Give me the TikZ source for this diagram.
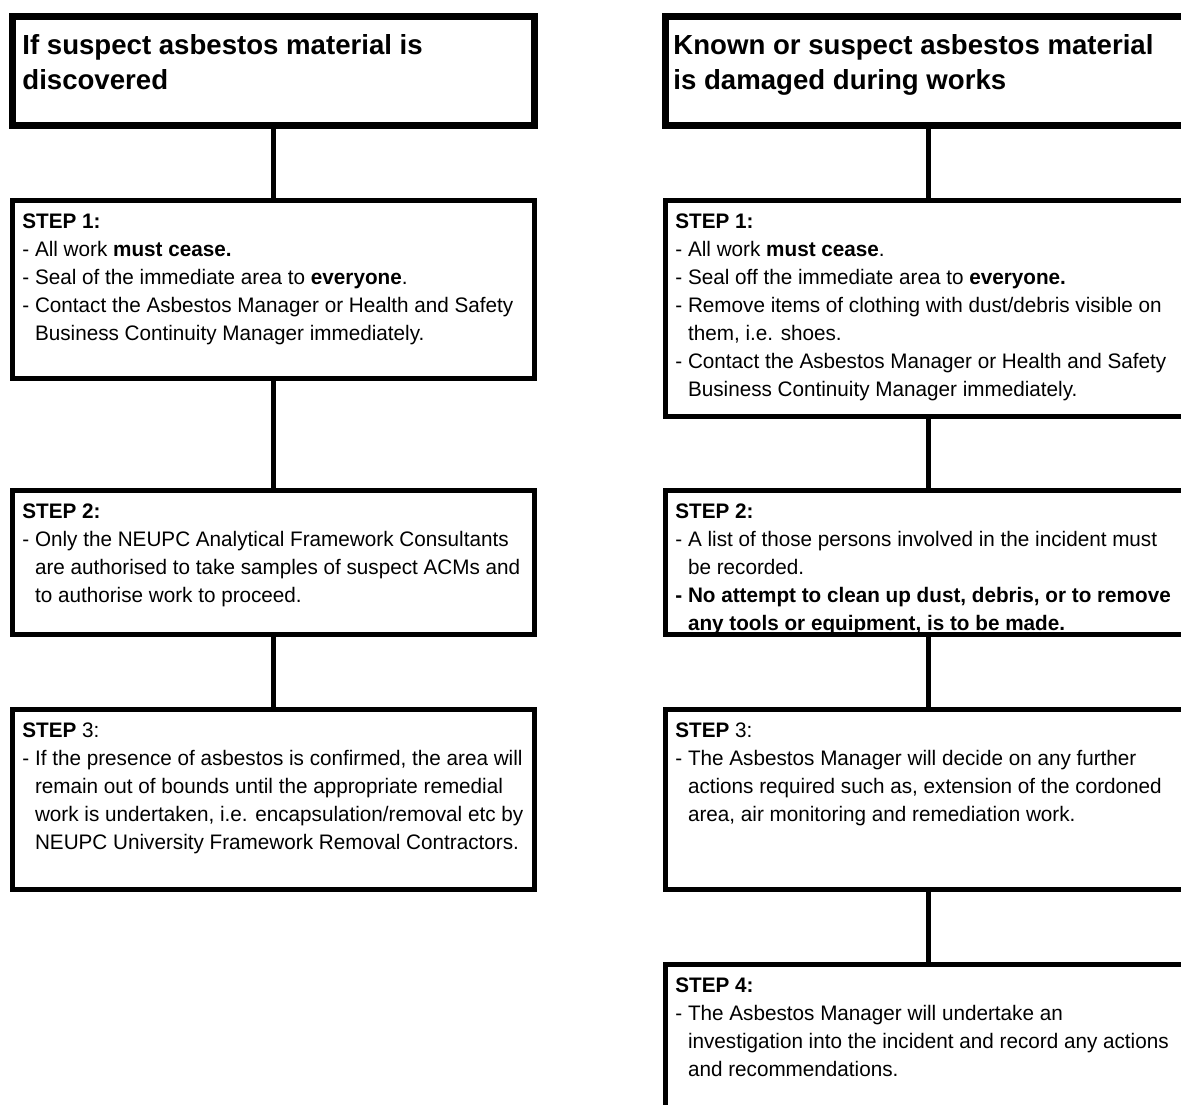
\documentclass[tikz,border=0pt]{standalone}
\usepackage{fontspec}
\setmainfont{Liberation Sans}
\newfontfamily\bodyfont[FakeStretch=0.985]{Liberation Sans}
\newcommand\hg{\hphantom{- }}
\tikzset{
  headbox/.style={draw=black, line width=3.5pt, inner sep=0pt, outer sep=0pt, anchor=north west},
  stepbox/.style={draw=black, line width=2.5pt, inner sep=0pt, outer sep=0pt, anchor=north west},
  headtxt/.style={anchor=north west, inner sep=0pt, align=left, font=\fontsize{13.8pt}{17.5pt}\selectfont\bfseries},
  steptxt/.style={anchor=north west, inner sep=0pt, align=left, font=\bodyfont\fontsize{10.5pt}{14pt}\selectfont},
  conn/.style={draw=black, line width=2.5pt}
}
\begin{document}
\begin{tikzpicture}[x=0.5pt,y=-0.5pt]
\useasboundingbox (0,0) rectangle (1181,1104);
\clip (0,0) rectangle (1181,1104);
% ---------- texts (drawn first so borders lie on top) ----------
\node[headtxt] (tL0) at (22,30) {\strut If suspect asbestos material is\\discovered};
\node[headtxt] (tR0) at (673,30) {\strut Known or suspect asbestos material\\is damaged during works};

\node[steptxt] (tL1) at (22,208) {\strut\textbf{STEP 1:}\\
- All work \textbf{must cease.}\\
- Seal of the immediate area to \textbf{everyone}.\\
- Contact the Asbestos Manager or Health and Safety\\
\hg Business Continuity Manager immediately.};

\node[steptxt] (tL2) at (22,498) {\strut\textbf{STEP 2:}\\
- Only the NEUPC Analytical Framework Consultants\\
\hg are authorised to take samples of suspect ACMs and\\
\hg to authorise work to proceed.};

\node[steptxt] (tL3) at (22,717) {\strut\textbf{STEP} 3:\\
- If the presence of asbestos is confirmed, the area will\\
\hg remain out of bounds until the appropriate remedial\\
\hg work is undertaken, i.e. encapsulation/removal etc by\\
\hg NEUPC University Framework Removal Contractors.};

\node[steptxt] (tR1) at (675,208) {\strut\textbf{STEP 1:}\\
- All work \textbf{must cease}.\\
- Seal off the immediate area to \textbf{everyone.}\\
- Remove items of clothing with dust/debris visible on\\
\hg them, i.e. shoes.\\
- Contact the Asbestos Manager or Health and Safety\\
\hg Business Continuity Manager immediately.};

\node[steptxt] (tR2) at (675,498) {\strut\textbf{STEP 2:}\\
- A list of those persons involved in the incident must\\
\hg be recorded.\\
\textbf{- No attempt to clean up dust, debris, or to remove}\\
\textbf{\hg any tools or equipment, is to be made.}};

\node[steptxt] (tR3) at (675,717) {\strut\textbf{STEP} 3:\\
- The Asbestos Manager will decide on any further\\
\hg actions required such as, extension of the cordoned\\
\hg area, air monitoring and remediation work.};

\node[steptxt] (tR4) at (675,972) {\strut\textbf{STEP 4:}\\
- The Asbestos Manager will undertake an\\
\hg investigation into the incident and record any actions\\
\hg and recommendations.};

% ---------- boxes ----------
\node[headbox, minimum width=261pt, minimum height=54.5pt] (L0) at (12,16) {};
\node[stepbox, minimum width=261pt, minimum height=89pt] (L1) at (12,200) {};
\node[stepbox, minimum width=261pt, minimum height=72pt] (L2) at (12,490) {};
\node[stepbox, minimum width=261pt, minimum height=90pt] (L3) at (12,709) {};

\node[headbox, minimum width=263pt, minimum height=54.5pt] (R0) at (665,16) {};
\node[stepbox, minimum width=263pt, minimum height=108pt] (R1) at (665,200) {};
\node[stepbox, minimum width=263pt, minimum height=72pt] (R2) at (665,490) {};
\node[stepbox, minimum width=263pt, minimum height=90pt] (R3) at (665,709) {};
\node[stepbox, minimum width=263pt, minimum height=90pt] (R4) at (665,964) {};

% ---------- connectors ----------
\draw[conn] (L0.south) -- (L1.north);
\draw[conn] (L1.south) -- (L2.north);
\draw[conn] (L2.south) -- (L3.north);
\draw[conn] (R0.south) -- (R1.north);
\draw[conn] (R1.south) -- (R2.north);
\draw[conn] (R2.south) -- (R3.north);
\draw[conn] (R3.south) -- (R4.north);
\end{tikzpicture}
\end{document}
